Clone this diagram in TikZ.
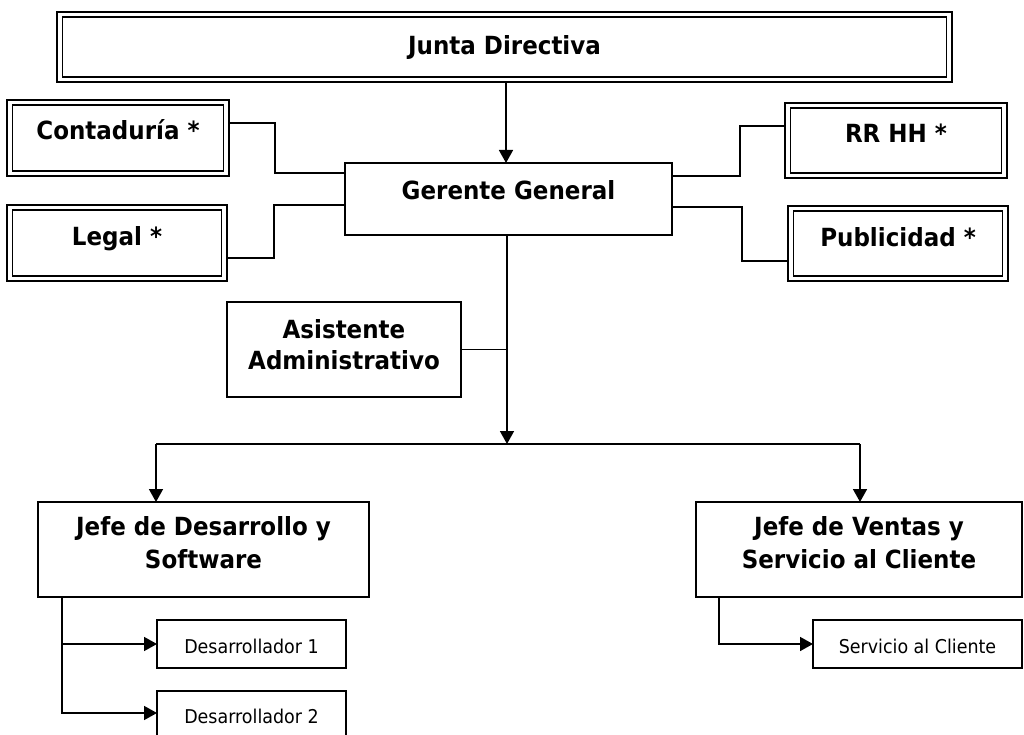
\documentclass[tikz,border=0pt]{standalone}
\usepackage{fontspec}
\setmainfont{DejaVu Sans}[FakeStretch=0.92]
\usetikzlibrary{arrows.meta}

% text set with its first baseline raised by #1 from the box centre
\newcommand{\boxtext}[2]{\raisebox{#1}[0pt][0pt]{\begin{tabular}[t]{@{}c@{}}#2\end{tabular}}}

\tikzset{
  unit/.style={draw, line width=1.8pt, inner sep=0pt, outer sep=0pt, rectangle},
  headbox/.style={unit, line width=2.6pt, font=\fontsize{25}{33}\selectfont\bfseries},
  mainbox/.style={unit, font=\fontsize{25}{33}\selectfont\bfseries},
  staffbox/.style={unit, line width=1.6pt, font=\fontsize{19}{22}\selectfont},
  link/.style={line width=1.6pt},
  arr/.style={link, -{Triangle[width=14pt,length=13pt]}},
}

\begin{document}
\begin{tikzpicture}[x=1pt, y=-1pt]
  \useasboundingbox (0,0) rectangle (1024,735);

  % board and advisory units (double border)
  \node[headbox, minimum width=895pt, minimum height=70pt] (junta) at (504.5,47)
    {\boxtext{-8pt}{Junta Directiva}};
  \node[headbox, minimum width=222pt, minimum height=76pt] (cont) at (118,138)
    {\boxtext{-2pt}{Contaduría *}};
  \node[headbox, minimum width=220pt, minimum height=76pt] (legal) at (117,243)
    {\boxtext{-2pt}{Legal *}};
  \node[headbox, minimum width=222pt, minimum height=75pt] (rrhh) at (896,140.5)
    {\boxtext{-2.5pt}{RR HH *}};
  \node[headbox, minimum width=220pt, minimum height=75pt] (publ) at (898,243.5)
    {\boxtext{-2.5pt}{Publicidad *}};
  \foreach \n in {junta,cont,legal,rrhh,publ}
    \draw[line width=1.1pt] ([xshift=5.5pt,yshift=-5pt]\n.north west)
      rectangle ([xshift=-5.5pt,yshift=5pt]\n.south east);

  % management
  \node[mainbox, minimum width=327pt, minimum height=72pt] (ger) at (508.5,199)
    {\boxtext{-1pt}{Gerente General}};
  \node[mainbox, minimum width=234pt, minimum height=95pt] (asis) at (344,349.5)
    {\fontsize{25}{31}\selectfont\boxtext{11.5pt}{Asistente\\Administrativo}};
  \node[mainbox, minimum width=331pt, minimum height=95pt] (jdes) at (203.5,549.5)
    {\boxtext{14.5pt}{Jefe de Desarrollo y\\Software}};
  \node[mainbox, minimum width=326pt, minimum height=95pt] (jven) at (859,549.5)
    {\boxtext{14.5pt}{Jefe de Ventas y\\Servicio al Cliente}};

  % staff
  \node[staffbox, minimum width=189pt, minimum height=48pt] (des1) at (251.5,644)
    {\boxtext{-9pt}{Desarrollador 1}};
  \node[staffbox, minimum width=189pt, minimum height=48pt] (des2) at (251.5,715)
    {\boxtext{-8pt}{Desarrollador 2}};
  \node[staffbox, minimum width=209pt, minimum height=48pt] (serv) at (917.5,644)
    {\boxtext{-9pt}{Servicio al Cliente}};

  % connectors
  \coordinate (hub) at (507,444);
  \coordinate (hl) at (156,444);
  \coordinate (hr) at (860,444);

  \draw[arr] ([xshift=1.5pt]junta.south) -- ([xshift=1.5pt]junta.south |- ger.north);
  \draw[link] ([yshift=15pt]cont.east) -- ++(46,0) |- ([yshift=26pt]ger.west);
  \draw[link] ([yshift=-15pt]legal.east) -- ++(47,0) |- ([yshift=-6pt]ger.west);
  \draw[link] ([yshift=23pt]ger.east) -- ++(68,0) |- ([yshift=14.5pt]rrhh.west);
  \draw[link] ([yshift=-8pt]ger.east) -- ++(70,0) |- ([yshift=-17.5pt]publ.west);

  \draw[arr] (ger.south -| hub) -- (hub);
  \draw[link] (asis.east) -- (asis.east -| hub);
  \draw[link] (hl) -- (hr);
  \draw[arr] (hl) -- (hl |- jdes.north);
  \draw[arr] (hr) -- (hr |- jven.north);

  \draw[arr] ([xshift=24pt]jdes.south west) |- (des1.west);
  \draw[arr] ([xshift=24pt]jdes.south west) |- ([yshift=2pt]des2.west);
  \draw[arr] ([xshift=23pt]jven.south west) |- (serv.west);
\end{tikzpicture}
\end{document}
